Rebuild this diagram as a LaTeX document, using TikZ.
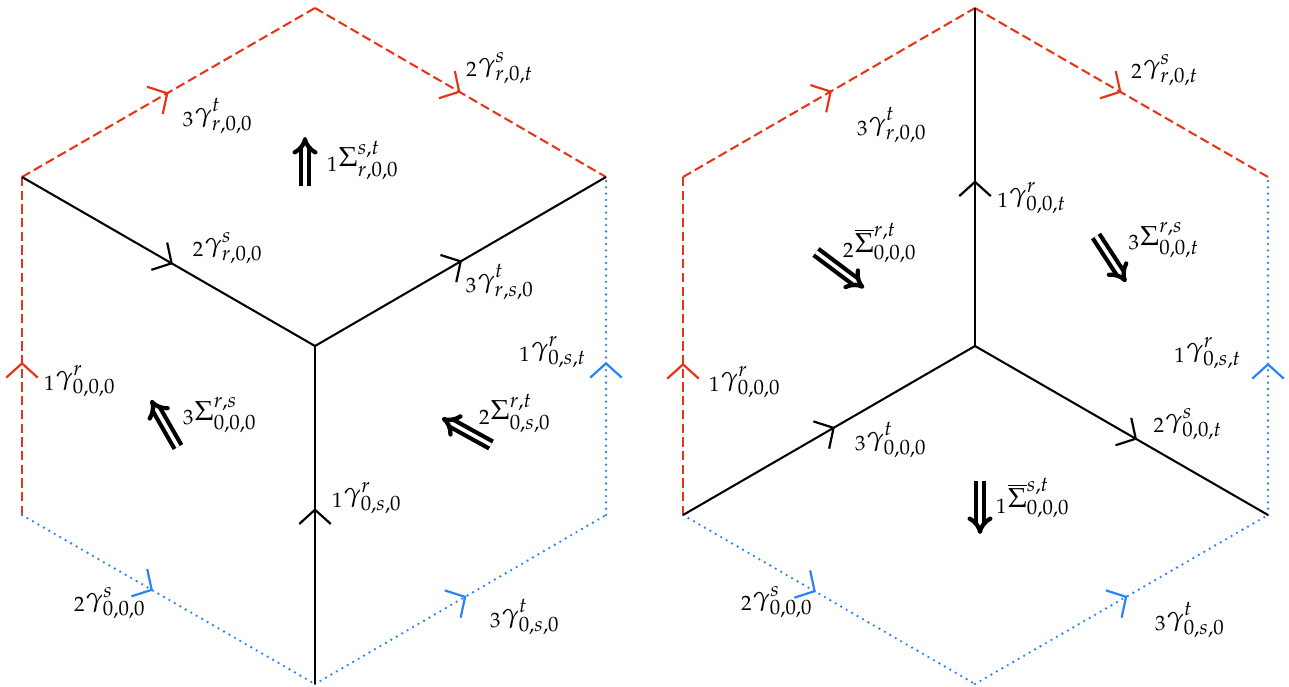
\documentclass[tikz,border=0pt]{standalone}
\usepackage{mathpazo}
\usetikzlibrary{arrows.meta,decorations.markings}
\definecolor{cred}{RGB}{232,52,22}
\definecolor{cblue}{RGB}{40,130,250}
\tikzset{
  edge/.style={line width=0.75pt},
  redE/.style={edge, draw=cred, dash pattern=on 3.4pt off 1.6pt},
  blueE/.style={line width=0.95pt, draw=cblue, line cap=round, dash pattern=on 0pt off 2.3pt},
  blackE/.style={edge, draw=black},
  midarrow/.style={postaction={decorate, decoration={markings,
      mark=at position #1 with {\arrow[line width=0.8pt]{Straight Barb[length=5.2pt,width=11.5pt]}}}}},
  cell/.style={draw, double, double distance=1.3pt, line width=1.55pt, -{Implies}},
  lbl/.style={inner sep=0pt}
}
\begin{document}
\begin{tikzpicture}[x=0.365pt, y=-0.365pt]
\useasboundingbox (0,0) rectangle (1289,686);
% left hexagon vertices
\coordinate (T1) at (315,8);
\coordinate (UL1) at (22,177);
\coordinate (UR1) at (606,177);
\coordinate (LL1) at (22,515);
\coordinate (LR1) at (606,515);
\coordinate (B1) at (315,684);
\coordinate (C1) at (315,346);
% right hexagon vertices
\coordinate (T2) at (975,8);
\coordinate (UL2) at (683,177);
\coordinate (UR2) at (1268,177);
\coordinate (LL2) at (683,515);
\coordinate (LR2) at (1268,515);
\coordinate (B2) at (975,684);
\coordinate (C2) at (975,346);

% left edges
\draw[redE, midarrow=0.5] (UL1) -- (T1);
\draw[redE, midarrow=0.5] (T1) -- (UR1);
\draw[redE, midarrow=0.453] (LL1) -- (UL1);
\draw[blueE, midarrow=0.447] (LL1) -- (B1);
\draw[blueE, midarrow=0.52] (B1) -- (LR1);
\draw[blueE, midarrow=0.453] (LR1) -- (UR1);
\draw[blackE, midarrow=0.515] (UL1) -- (C1);
\draw[blackE, midarrow=0.505] (C1) -- (UR1);
\draw[blackE, midarrow=0.52] (B1) -- (C1);

% right edges
\draw[redE, midarrow=0.51] (UL2) -- (T2);
\draw[redE, midarrow=0.5] (T2) -- (UR2);
\draw[redE, midarrow=0.45] (LL2) -- (UL2);
\draw[blueE, midarrow=0.45] (LR2) -- (UR2);
\draw[blueE, midarrow=0.455] (LL2) -- (B2);
\draw[blueE, midarrow=0.52] (B2) -- (LR2);
\draw[blackE, midarrow=0.49] (C2) -- (T2);
\draw[blackE, midarrow=0.52] (LL2) -- (C2);
\draw[blackE, midarrow=0.553] (C2) -- (LR2);

% 2-cell arrows
\coordinate (a1s) at (305,186); \coordinate (a1e) at (305,137);
\coordinate (a2s) at (178,447); \coordinate (a2e) at (151,400);
\coordinate (a3s) at (491,445); \coordinate (a3e) at (442,418);
\coordinate (a4s) at (816,252); \coordinate (a4e) at (864,288);
\coordinate (a5s) at (1096,236); \coordinate (a5e) at (1126,282);
\coordinate (a6s) at (980,481); \coordinate (a6e) at (980,534);
\draw[cell] (a1s) -- (a1e);
\draw[cell] (a2s) -- (a2e);
\draw[cell] (a3s) -- (a3e);
\draw[cell] (a4s) -- (a4e);
\draw[cell] (a5s) -- (a5e);
\draw[cell] (a6s) -- (a6e);

% left labels
\node[lbl] (l1) at (218,116) {${}_3\gamma^t_{r,0,0}$};
\node[lbl] (l2) at (500,68) {${}_2\gamma^s_{r,0,t}$};
\node[lbl] (l3) at (363,160) {${}_1\Sigma^{s,t}_{r,0,0}$};
\node[lbl] (l4) at (228,248) {${}_2\gamma^s_{r,0,0}$};
\node[lbl] (l5) at (80,381) {${}_1\gamma^r_{0,0,0}$};
\node[lbl] (l6) at (220,415) {${}_3\Sigma^{r,s}_{0,0,0}$};
\node[lbl] (l7) at (500,282) {${}_3\gamma^t_{r,s,0}$};
\node[lbl] (l8) at (553,352) {${}_1\gamma^r_{0,s,t}$};
\node[lbl] (l9) at (515,413) {${}_2\Sigma^{r,t}_{0,s,0}$};
\node[lbl] (l10) at (367,498) {${}_1\gamma^r_{0,s,0}$};
\node[lbl] (l11) at (110,603) {${}_2\gamma^s_{0,0,0}$};
\node[lbl] (l12) at (525,617) {${}_3\gamma^t_{0,s,0}$};

% right labels
\node[lbl] (r1) at (892,125) {${}_3\gamma^t_{r,0,0}$};
\node[lbl] (r2) at (1165,70) {${}_2\gamma^s_{r,0,t}$};
\node[lbl] (r3) at (1032,198) {${}_1\gamma^r_{0,0,t}$};
\node[lbl] (r4) at (880,243) {${}_2\overline{\Sigma}^{r,t}_{0,0,0}$};
\node[lbl] (r5) at (1164,240) {${}_3\Sigma^{r,s}_{0,0,t}$};
\node[lbl] (r6) at (745,382) {${}_1\gamma^r_{0,0,0}$};
\node[lbl] (r7) at (891,440) {${}_3\gamma^t_{0,0,0}$};
\node[lbl] (r8) at (1208,353) {${}_1\gamma^r_{0,s,t}$};
\node[lbl] (r9) at (1188,424) {${}_2\gamma^s_{0,0,t}$};
\node[lbl] (r10) at (1033,498) {${}_1\overline{\Sigma}^{s,t}_{0,0,0}$};
\node[lbl] (r11) at (777,602) {${}_2\gamma^s_{0,0,0}$};
\node[lbl] (r12) at (1190,620) {${}_3\gamma^t_{0,s,0}$};
\end{tikzpicture}
\end{document}
